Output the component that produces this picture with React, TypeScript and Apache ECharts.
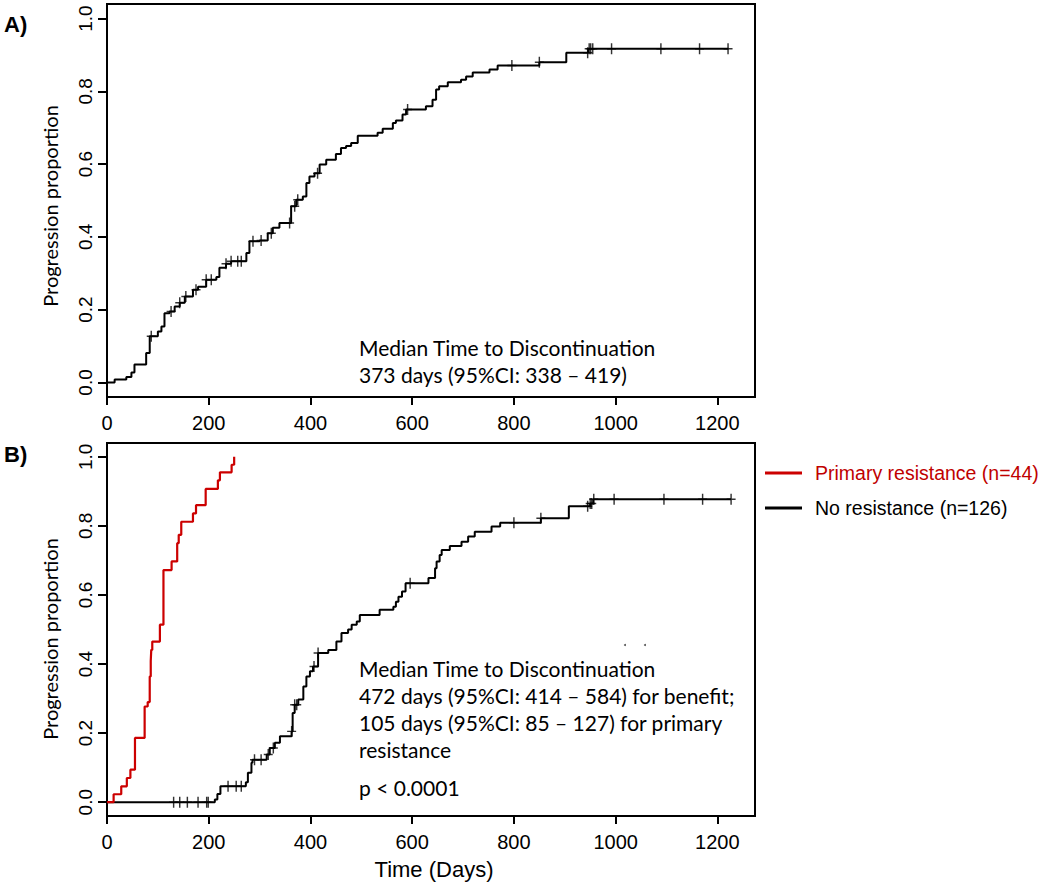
import React, { useEffect, useRef } from "react";
import * as echarts from "echarts";

// ---------- data ----------
const xTicks = [0, 200, 400, 600, 800, 1000, 1200];
const yTicks = [0, 0.2, 0.4, 0.6, 0.8, 1.0];

// Panel A: all patients (cumulative progression, step function)
const aTimes = [0, 15, 38, 48, 54, 77, 84, 100, 107, 113, 123, 133, 143, 153, 169, 179, 195, 215, 221, 234, 244, 274, 280, 300, 316, 326, 339, 362, 372, 385, 392, 398, 408, 418, 431, 450, 460, 470, 480, 493, 532, 542, 562, 568, 581, 588, 627, 640, 647, 653, 670, 696, 706, 719, 752, 768, 850, 903, 946, 1222];
const aValues = [0, 0.008, 0.015, 0.027, 0.049, 0.081, 0.127, 0.14, 0.154, 0.19, 0.195, 0.209, 0.219, 0.236, 0.255, 0.263, 0.282, 0.29, 0.315, 0.326, 0.333, 0.356, 0.388, 0.39, 0.41, 0.425, 0.438, 0.484, 0.502, 0.511, 0.548, 0.566, 0.575, 0.599, 0.612, 0.628, 0.644, 0.65, 0.658, 0.678, 0.686, 0.697, 0.713, 0.72, 0.736, 0.75, 0.759, 0.777, 0.805, 0.814, 0.825, 0.832, 0.841, 0.852, 0.86, 0.871, 0.88, 0.906, 0.917, 0.917];
const aCensorTimes = [87, 126, 143, 155, 175, 195, 205, 234, 244, 257, 264, 287, 303, 323, 359, 369, 375, 414, 591, 796, 850, 945, 948, 951, 955, 992, 1089, 1165, 1221];

// Panel B: primary resistance (red)
const redTimes = [0, 13, 28, 39, 46, 55, 74, 80, 84, 86, 87, 89, 104, 111, 127, 138, 141, 146, 169, 175, 194, 218, 222, 245, 250];
const redValues = [0, 0.023, 0.046, 0.07, 0.094, 0.186, 0.277, 0.29, 0.364, 0.409, 0.441, 0.465, 0.514, 0.672, 0.697, 0.75, 0.774, 0.812, 0.836, 0.86, 0.907, 0.932, 0.955, 0.977, 1.0];

// Panel B: no resistance (black)
const blackTimes = [0, 212, 217, 223, 273, 277, 284, 286, 314, 320, 330, 340, 363, 365, 369, 376, 386, 392, 399, 405, 415, 435, 451, 461, 474, 481, 491, 497, 536, 563, 568, 573, 580, 587, 632, 645, 648, 654, 658, 674, 697, 710, 723, 756, 773, 853, 908, 950, 956, 1227];
const blackValues = [0, 0.008, 0.024, 0.046, 0.058, 0.085, 0.114, 0.123, 0.138, 0.157, 0.172, 0.191, 0.205, 0.258, 0.282, 0.297, 0.335, 0.364, 0.379, 0.393, 0.432, 0.441, 0.465, 0.49, 0.5, 0.514, 0.523, 0.542, 0.557, 0.566, 0.58, 0.595, 0.61, 0.634, 0.649, 0.677, 0.697, 0.716, 0.73, 0.742, 0.754, 0.769, 0.783, 0.798, 0.809, 0.822, 0.857, 0.865, 0.877, 0.877];
const blackCensorTimes = [131, 143, 158, 179, 196, 199, 238, 254, 264, 290, 303, 317, 327, 363, 369, 373, 407, 415, 596, 800, 853, 945, 950, 953, 957, 997, 1095, 1171, 1227];

const legendLabels = ["Primary resistance (n=44)", "No resistance (n=126)"];
const noteA = ["Median Time to Discontinuation", "373 days (95%CI: 338 \u2013 419)"];
const noteB = [
  "Median Time to Discontinuation",
  "472 days (95%CI: 414 \u2013 584) for benefit;",
  "105 days (95%CI: 85 \u2013 127) for primary",
  "resistance",
];
const pValueText = "p < 0.0001";
const yTitle = "Progression proportion";
const xTitle = "Time (Days)";

// ---------- helpers ----------
function stepAt(times: number[], values: number[], t: number): number {
  let v = values[0];
  for (let i = 0; i < times.length; i++) if (times[i] <= t) v = values[i];
  return v;
}
const pairs = (ts: number[], vs: number[]) => ts.map((t, i) => [t, vs[i]]);
const censorPts = (cs: number[], ts: number[], vs: number[]) => cs.map((c) => [c, stepAt(ts, vs, c)]);

const PLUS = "path://M-5,-0.8H5V0.8H-5Z M-0.8,-6H0.8V6H-0.8Z";
const RED = "#cc0000";
const TICK_FONT = "Liberation Sans, Arial, sans-serif";
const NOTE_FONT = "Lato, 'Open Sans', sans-serif";

function makeX(gridIndex: number) {
  return {
    type: "value",
    gridIndex,
    min: 0,
    max: 1274,
    axisLine: { show: true, onZero: false, lineStyle: { color: "#000", width: 2 } },
    splitLine: { show: false },
    axisTick: { show: true, inside: false, customValues: xTicks, length: 8, lineStyle: { color: "#000", width: 2 } },
    axisLabel: {
      customValues: xTicks,
      color: "#000",
      fontSize: 20,
      fontFamily: TICK_FONT,
      margin: 16,
      formatter: (v: number) => String(v),
    },
  };
}
function makeY(gridIndex: number) {
  return {
    type: "value",
    gridIndex,
    min: -0.04,
    max: 1.04,
    axisLine: { show: true, onZero: false, lineStyle: { color: "#000", width: 2 } },
    splitLine: { show: false },
    axisTick: { show: true, inside: false, customValues: yTicks, length: 9, lineStyle: { color: "#000", width: 2 } },
    axisLabel: {
      customValues: yTicks,
      color: "#000",
      fontSize: 19,
      fontFamily: TICK_FONT,
      rotate: 90,
      align: "center",
      verticalAlign: "bottom",
      margin: 12,
      formatter: (v: number) => v.toFixed(1),
    },
  };
}

function noteLines(lines: string[], x: number, y0: number, dy: number) {
  return lines.map((t, i) => ({
    type: "text",
    x,
    y: y0 + i * dy,
    style: { text: t, font: `21px ${NOTE_FONT}`, fill: "#000", textAlign: "left", textVerticalAlign: "middle" },
  }));
}

export default function App() {
  const ref = useRef<HTMLDivElement>(null);
  useEffect(() => {
    if (!ref.current) return;
    const chart = echarts.init(ref.current, undefined, { renderer: "svg" });
    const option: any = {
      animation: false,
      backgroundColor: "#fff",
      grid: [
        { left: 107, top: 4, width: 648, height: 393, show: true, borderColor: "#000", borderWidth: 2, backgroundColor: "transparent" },
        { left: 107, top: 443, width: 648, height: 373, show: true, borderColor: "#000", borderWidth: 2, backgroundColor: "transparent" },
      ],
      xAxis: [makeX(0), makeX(1)],
      yAxis: [makeY(0), makeY(1)],
      series: [
        {
          name: "All",
          type: "line",
          xAxisIndex: 0,
          yAxisIndex: 0,
          step: "end",
          symbol: "none",
          lineStyle: { color: "#000", width: 2 },
          data: pairs(aTimes, aValues),
        },
        {
          type: "scatter",
          xAxisIndex: 0,
          yAxisIndex: 0,
          symbol: PLUS,
          symbolSize: [9, 11],
          itemStyle: { color: "#000" },
          data: censorPts(aCensorTimes, aTimes, aValues),
        },
        {
          name: legendLabels[1],
          type: "line",
          xAxisIndex: 1,
          yAxisIndex: 1,
          step: "end",
          symbol: "none",
          lineStyle: { color: "#000", width: 2 },
          data: pairs(blackTimes, blackValues),
        },
        {
          type: "scatter",
          xAxisIndex: 1,
          yAxisIndex: 1,
          symbol: PLUS,
          symbolSize: [9, 11],
          itemStyle: { color: "#000" },
          data: censorPts(blackCensorTimes, blackTimes, blackValues),
        },
        {
          name: legendLabels[0],
          type: "line",
          xAxisIndex: 1,
          yAxisIndex: 1,
          step: "end",
          symbol: "none",
          lineStyle: { color: RED, width: 2.2 },
          data: pairs(redTimes, redValues),
        },
      ],
      graphic: [
        { type: "text", x: 4, y: 24, style: { text: "A)", font: `bold 22px ${TICK_FONT}`, fill: "#000", textVerticalAlign: "middle" } },
        { type: "text", x: 4, y: 454, style: { text: "B)", font: `bold 22px ${TICK_FONT}`, fill: "#000", textVerticalAlign: "middle" } },
        { type: "text", x: 50, y: 206, rotation: Math.PI / 2, style: { text: yTitle, font: `20px ${NOTE_FONT}`, fill: "#000", textAlign: "center", textVerticalAlign: "middle" } },
        { type: "text", x: 50, y: 639, rotation: Math.PI / 2, style: { text: yTitle, font: `20px ${NOTE_FONT}`, fill: "#000", textAlign: "center", textVerticalAlign: "middle" } },
        { type: "text", x: 434, y: 869, style: { text: xTitle, font: `22px ${TICK_FONT}`, fill: "#000", textAlign: "center", textVerticalAlign: "middle" } },
        ...noteLines(noteA, 359, 347, 27),
        ...noteLines(noteB, 359, 668, 27.3),
        { type: "text", x: 359, y: 787, style: { text: pValueText, font: `21px ${NOTE_FONT}`, fill: "#000", textAlign: "left", textVerticalAlign: "middle" } },
        { type: "circle", shape: { cx: 625, cy: 645, r: 1 }, style: { fill: "#555" } },
        { type: "circle", shape: { cx: 645, cy: 645, r: 1 }, style: { fill: "#555" } },
        // legend
        { type: "line", shape: { x1: 765, y1: 473, x2: 802, y2: 473 }, style: { stroke: RED, lineWidth: 3 } },
        { type: "text", x: 815, y: 473, style: { text: legendLabels[0], font: `19.5px ${TICK_FONT}`, fill: "#c00000", textAlign: "left", textVerticalAlign: "middle" } },
        { type: "line", shape: { x1: 765, y1: 508, x2: 802, y2: 508 }, style: { stroke: "#000", lineWidth: 3 } },
        { type: "text", x: 815, y: 508, style: { text: legendLabels[1], font: `19.5px ${TICK_FONT}`, fill: "#000", textAlign: "left", textVerticalAlign: "middle" } },
      ],
    };
    chart.setOption(option);
    return () => chart.dispose();
  }, []);
  return <div ref={ref} style={{ position: "fixed", left: 0, top: 0, width: 1050, height: 885, background: "#fff" }} />;
}
